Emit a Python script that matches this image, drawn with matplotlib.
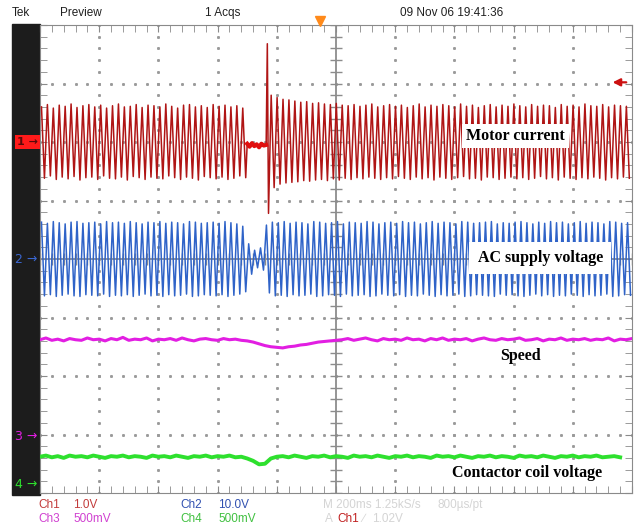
"""Oscilloscope capture: motor current, AC supply, speed and contactor coil
voltage during a short supply interruption (Tek preview, 200 ms/div)."""
import numpy as np
import matplotlib
matplotlib.use("Agg")
import matplotlib.pyplot as plt
from matplotlib.patches import Rectangle
from matplotlib.transforms import blended_transform_factory

W, H = 636, 526

# ---- channel setup (screen divisions) ------------------------------------
CH1_POS, CH1_SCALE = 2.0, 1.0      # V/div
CH2_POS, CH2_SCALE = 0.0, 10.0
CH3_POS, CH3_SCALE = -3.04, 0.5
CH4_POS, CH4_SCALE = -3.86, 0.5
TRIG_LEVEL = 1.02                  # V on Ch1
TRIG_TIME = -54                    # ms
PERIOD = 20                        # ms, 50 Hz

# ---- Ch1 motor current: peak per half cycle (V) --------------------------
RED_PRE_HI = [0.60, 0.64, 0.58, 0.63, 0.61, 0.65, 0.59, 0.62, 0.64, 0.60,
              0.63, 0.58, 0.62, 0.65, 0.60, 0.61, 0.64, 0.59, 0.63, 0.62,
              0.60, 0.65, 0.61, 0.58, 0.63, 0.64, 0.60, 0.62, 0.59, 0.64,
              0.61, 0.63, 0.60, 0.62, 0.58]
RED_PRE_LO = [-0.62, -0.58, -0.64, -0.60, -0.63, -0.59, -0.65, -0.61, -0.60, -0.64,
              -0.58, -0.62, -0.63, -0.60, -0.65, -0.59, -0.61, -0.64, -0.60, -0.62,
              -0.63, -0.58, -0.61, -0.64, -0.60, -0.62, -0.65, -0.59, -0.61, -0.63,
              -0.60, -0.64, -0.62, -0.58, -0.61]
RED_GAP = [-0.03, -0.08, -0.02, -0.07, -0.04, -0.09, -0.03, -0.06, -0.05]
RED_SPIKE = [1.68, -1.22]
RED_POST_HI = [0.80, 0.76, 0.73, 0.72, 0.70, 0.68, 0.69, 0.66, 0.67, 0.65,
               0.64, 0.66, 0.63, 0.62, 0.64, 0.61, 0.63, 0.65, 0.60, 0.62,
               0.64, 0.61, 0.63, 0.59, 0.62, 0.65, 0.60, 0.63, 0.61, 0.64,
               0.62, 0.60, 0.65, 0.61, 0.63, 0.59, 0.62, 0.64, 0.60, 0.63,
               0.61, 0.65, 0.62, 0.60, 0.64, 0.61, 0.63, 0.62, 0.59, 0.64,
               0.61, 0.63, 0.60, 0.65, 0.62, 0.61, 0.64, 0.60, 0.63, 0.62,
               0.61]
RED_POST_LO = [-0.78, -0.72, -0.70, -0.69, -0.68, -0.66, -0.67, -0.65, -0.64, -0.66,
               -0.63, -0.65, -0.62, -0.64, -0.61, -0.63, -0.60, -0.62, -0.64, -0.61,
               -0.63, -0.59, -0.62, -0.64, -0.60, -0.63, -0.61, -0.65, -0.60, -0.62,
               -0.64, -0.61, -0.59, -0.63, -0.62, -0.65, -0.60, -0.61, -0.64, -0.62,
               -0.60, -0.63, -0.61, -0.64, -0.62, -0.59, -0.63, -0.61, -0.65, -0.60,
               -0.62, -0.64, -0.61, -0.63, -0.60, -0.62, -0.65, -0.61, -0.63, -0.60,
               -0.62]

# ---- Ch2 AC supply: peak amplitude per cycle (V) -------------------------
BLUE_AMP = [6.3, 6.1, 6.4, 6.2, 6.0, 6.3, 6.4, 6.1, 6.2, 6.3,
            6.0, 6.4, 6.2, 6.3, 6.1, 6.4, 6.2, 6.0, 6.3, 6.2,
            6.4, 6.1, 6.3, 6.2, 6.0, 6.4, 6.3, 6.1, 6.2, 6.3,
            6.1, 6.4, 6.2, 6.0, 5.6, 2.6, 1.5, 1.9, 5.8, 6.3,
            6.2, 6.4, 6.1, 6.3, 6.2, 6.0, 6.4, 6.3, 6.1, 6.2,
            6.4, 6.0, 6.3, 6.2, 6.1, 6.4, 6.3, 6.0, 6.2, 6.3,
            6.1, 6.4, 6.2, 6.3, 6.0, 6.2, 6.4, 6.1, 6.3, 6.2,
            6.0, 6.4, 6.3, 6.1, 6.2, 6.3, 6.4, 6.0, 6.2, 6.1,
            6.3, 6.4, 6.2, 6.0, 6.3, 6.1, 6.4, 6.2, 6.3, 6.0,
            6.2, 6.4, 6.1, 6.3, 6.2, 6.0, 6.4, 6.3, 6.1, 6.2]

# ---- Ch3 speed, Ch4 contactor coil (V), one sample per 20 ms -------------
SPEED = [0.83, 0.845, 0.825, 0.835, 0.82, 0.84, 0.83, 0.825, 0.845, 0.83,
         0.835, 0.82, 0.84, 0.83, 0.85, 0.825, 0.835, 0.83, 0.845, 0.82,
         0.835, 0.83, 0.84, 0.825, 0.845, 0.83, 0.82, 0.835, 0.84, 0.83,
         0.825, 0.84, 0.83, 0.835, 0.825,
         0.82, 0.81, 0.795, 0.78, 0.77, 0.765, 0.76, 0.77, 0.775, 0.785,
         0.79, 0.80, 0.81, 0.815, 0.82, 0.825,
         0.83, 0.84, 0.825, 0.835, 0.845, 0.83, 0.82, 0.84, 0.83, 0.835,
         0.825, 0.845, 0.83, 0.835, 0.82, 0.84, 0.83, 0.845, 0.825, 0.835,
         0.83, 0.84, 0.82, 0.835, 0.845, 0.83, 0.825, 0.84, 0.83, 0.835,
         0.845, 0.825, 0.83, 0.84, 0.82, 0.835, 0.83, 0.845, 0.825, 0.835,
         0.83, 0.84, 0.825, 0.835, 0.83, 0.845, 0.82, 0.835, 0.83, 0.84]
COIL = [0.24, 0.25, 0.235, 0.245, 0.23, 0.25, 0.24, 0.245, 0.235, 0.25,
        0.24, 0.23, 0.245, 0.24, 0.25, 0.235, 0.245, 0.24, 0.23, 0.25,
        0.24, 0.245, 0.235, 0.25, 0.24, 0.23, 0.245, 0.24, 0.25, 0.235,
        0.245, 0.24, 0.25, 0.235,
        0.24, 0.225, 0.205, 0.175, 0.18, 0.225, 0.24, 0.245,
        0.235, 0.25, 0.24, 0.23, 0.245, 0.24, 0.25, 0.235, 0.245, 0.24,
        0.23, 0.25, 0.24, 0.245, 0.235, 0.25, 0.24, 0.23, 0.245, 0.24,
        0.25, 0.235, 0.245, 0.24, 0.23, 0.25, 0.24, 0.245, 0.235, 0.25,
        0.24, 0.23, 0.245, 0.24, 0.25, 0.235, 0.245, 0.24, 0.23, 0.25,
        0.24, 0.245, 0.235, 0.25, 0.24, 0.23, 0.245, 0.24, 0.25, 0.235,
        0.245, 0.24, 0.25, 0.235, 0.24, 0.245, 0.235]

RED, BLUE, MAG, GRN = "#b01515", "#2f63c8", "#e21ee2", "#2ee02e"
FAINT = "#d4d4d4"


def zigzag(hi, lo, t0):
    t, v = [], []
    for k, (h, l) in enumerate(zip(hi, lo)):
        t += [t0 + k * PERIOD + 5, t0 + k * PERIOD + 15]
        v += [h, l]
    return t, v


fig = plt.figure(figsize=(W / 100, H / 100), dpi=100)
ax = fig.add_axes([40 / W, 33 / H, 592 / W, 468 / H])
ax.set_zorder(2)
ax.set_xlim(-1000, 1000)
ax.set_ylim(-4, 4)

# black strip with channel markers
fig.patches.append(Rectangle((12 / W, 31 / H), 28 / W, 471 / H,
                             transform=fig.transFigure, color="#1c1c1c", zorder=0))

# graticule
minor_x = np.arange(-1000, 1001, 40)
minor_y = np.arange(-4, 4.01, 0.2)
for gx in range(-800, 801, 200):
    if gx != 0:
        ax.plot(np.full_like(minor_y, gx), minor_y, ls="none", marker="s",
                ms=1.1, color="#9a9a9a", zorder=1)
for gy in range(-3, 4):
    if gy != 0:
        ax.plot(minor_x, np.full_like(minor_x, gy, dtype=float), ls="none",
                marker="s", ms=1.1, color="#9a9a9a", zorder=1)
ax.axvline(0, color="#8c8c8c", lw=1.3, zorder=1)
ax.axhline(0, color="#8c8c8c", lw=1.3, zorder=1)
ax.plot(np.zeros_like(minor_y), minor_y, ls="none", marker="_", ms=8,
        mew=1.0, color="#8c8c8c", zorder=1)
ax.plot(minor_x, np.zeros_like(minor_x), ls="none", marker="|", ms=8,
        mew=1.0, color="#8c8c8c", zorder=1)

ax.set_xticks(np.arange(-1000, 1001, 200))
ax.set_xticks(minor_x, minor=True)
ax.set_yticks(np.arange(-4, 5, 1))
ax.set_yticks(minor_y, minor=True)
ax.tick_params(which="both", direction="in", top=True, right=True,
               length=5, color="#8a8a8a", labelbottom=False, labelleft=False)
for s in ax.spines.values():
    s.set_color("#8a8a8a")

# Ch1 motor current
t_pre, v_pre = zigzag(RED_PRE_HI, RED_PRE_LO, -1000)
t_gap = list(-300 + 8 * np.arange(len(RED_GAP)))
t_post, v_post = zigzag(RED_POST_HI, RED_POST_LO, -224)
t1 = t_pre + t_gap + [-232, -228] + t_post
v1 = np.array(v_pre + RED_GAP + RED_SPIKE + v_post)
ax.plot(t1, CH1_POS + v1 / CH1_SCALE, color=RED, lw=1.1, zorder=3)
ax.plot(t_gap, CH1_POS + np.array(RED_GAP) / CH1_SCALE, color="#e01010",
        lw=3, zorder=3)

# Ch2 AC supply
t2, v2 = zigzag(BLUE_AMP, [-a for a in BLUE_AMP], -1000)
ax.plot(t2, CH2_POS + np.array(v2) / CH2_SCALE, color=BLUE, lw=1.1, zorder=3)

# Ch3 / Ch4
ts = -1000 + 20 * np.arange(len(SPEED))
ax.plot(ts, CH3_POS + np.array(SPEED) / CH3_SCALE, color=MAG, lw=2.2, zorder=3)
tc = -1000 + 20 * np.arange(len(COIL))
ax.plot(tc, CH4_POS + np.array(COIL) / CH4_SCALE, color=GRN, lw=2.8, zorder=3)

# trigger markers
ax.plot([TRIG_TIME], [4.06], marker="v", ms=7, color="#ff8a1a",
        clip_on=False, zorder=6)
ax.annotate("", xy=(925, CH1_POS + TRIG_LEVEL), xytext=(990, CH1_POS + TRIG_LEVEL),
            arrowprops=dict(arrowstyle="-|>", color="#cc1111", lw=1.6,
                            mutation_scale=11), zorder=6)

# channel ground markers on the left
tr = blended_transform_factory(ax.transAxes, ax.transData)
ax.text(-0.004, CH1_POS, "1 \u2192", transform=tr, ha="right", va="center",
        fontsize=8, color="#5a0a0a", fontweight="bold", clip_on=False,
        zorder=8, bbox=dict(facecolor="#ff1a1a", edgecolor="none", pad=1.5))
for pos, lab, col in [(CH2_POS, "2", "#3a66d0"), (CH3_POS, "3", MAG),
                      (CH4_POS, "4", GRN)]:
    ax.text(-0.004, pos, lab + " \u2192", transform=tr, ha="right",
            va="center", fontsize=9, color=col, clip_on=False, zorder=8)

# trace labels
lab = dict(family="Liberation Serif", fontweight="bold", fontsize=11.5,
           color="black", ha="center", va="center", zorder=7)
box = dict(facecolor="white", edgecolor="none", pad=3)
ax.text(605, 2.10, "Motor current", bbox=box, **lab)
ax.text(690, 0.02, "AC supply voltage", bbox=dict(facecolor="white",
        edgecolor="none", pad=6), **lab)
ax.text(622, -1.66, "Speed", **lab)
ax.text(645, -3.66, "Contactor coil voltage", bbox=box, **lab)

# header and footer text
hdr = dict(family=["Liberation Sans Narrow", "Liberation Sans"], fontsize=8.5,
           color="#202020", va="center")
fig.text(12 / W, 1 - 13 / H, "Tek", **hdr)
fig.text(60 / W, 1 - 13 / H, "Preview", **hdr)
fig.text(205 / W, 1 - 13 / H, "1 Acqs", **hdr)
fig.text(400 / W, 1 - 13 / H, "09 Nov 06 19:41:36", **hdr)

ftr = dict(family=["Liberation Sans Narrow", "Liberation Sans"], fontsize=8.5,
           va="center")
r1, r2 = 1 - 505 / H, 1 - 519 / H
fig.text(38 / W, r1, "Ch1", color="#c23a3a", **ftr)
fig.text(73 / W, r1, "1.0V", color="#c23a3a", **ftr)
fig.text(180 / W, r1, "Ch2", color="#3050b0", **ftr)
fig.text(218 / W, r1, "10.0V", color="#3050b0", **ftr)
fig.text(38 / W, r2, "Ch3", color="#d040d0", **ftr)
fig.text(73 / W, r2, "500mV", color="#d040d0", **ftr)
fig.text(180 / W, r2, "Ch4", color="#40c040", **ftr)
fig.text(218 / W, r2, "500mV", color="#40c040", **ftr)
fig.text(323 / W, r1, "M 200ms 1.25kS/s", color=FAINT, **ftr)
fig.text(438 / W, r1, "800\u00b5s/pt", color=FAINT, **ftr)
fig.text(325 / W, r2, "A", color=FAINT, **ftr)
fig.text(337 / W, r2, "Ch1", color="#c02020", **ftr)
fig.text(362 / W, r2, "\u2215", color=FAINT, **ftr)
fig.text(372 / W, r2, "1.02V", color=FAINT, **ftr)

fig.savefig("out.png", dpi=100)
